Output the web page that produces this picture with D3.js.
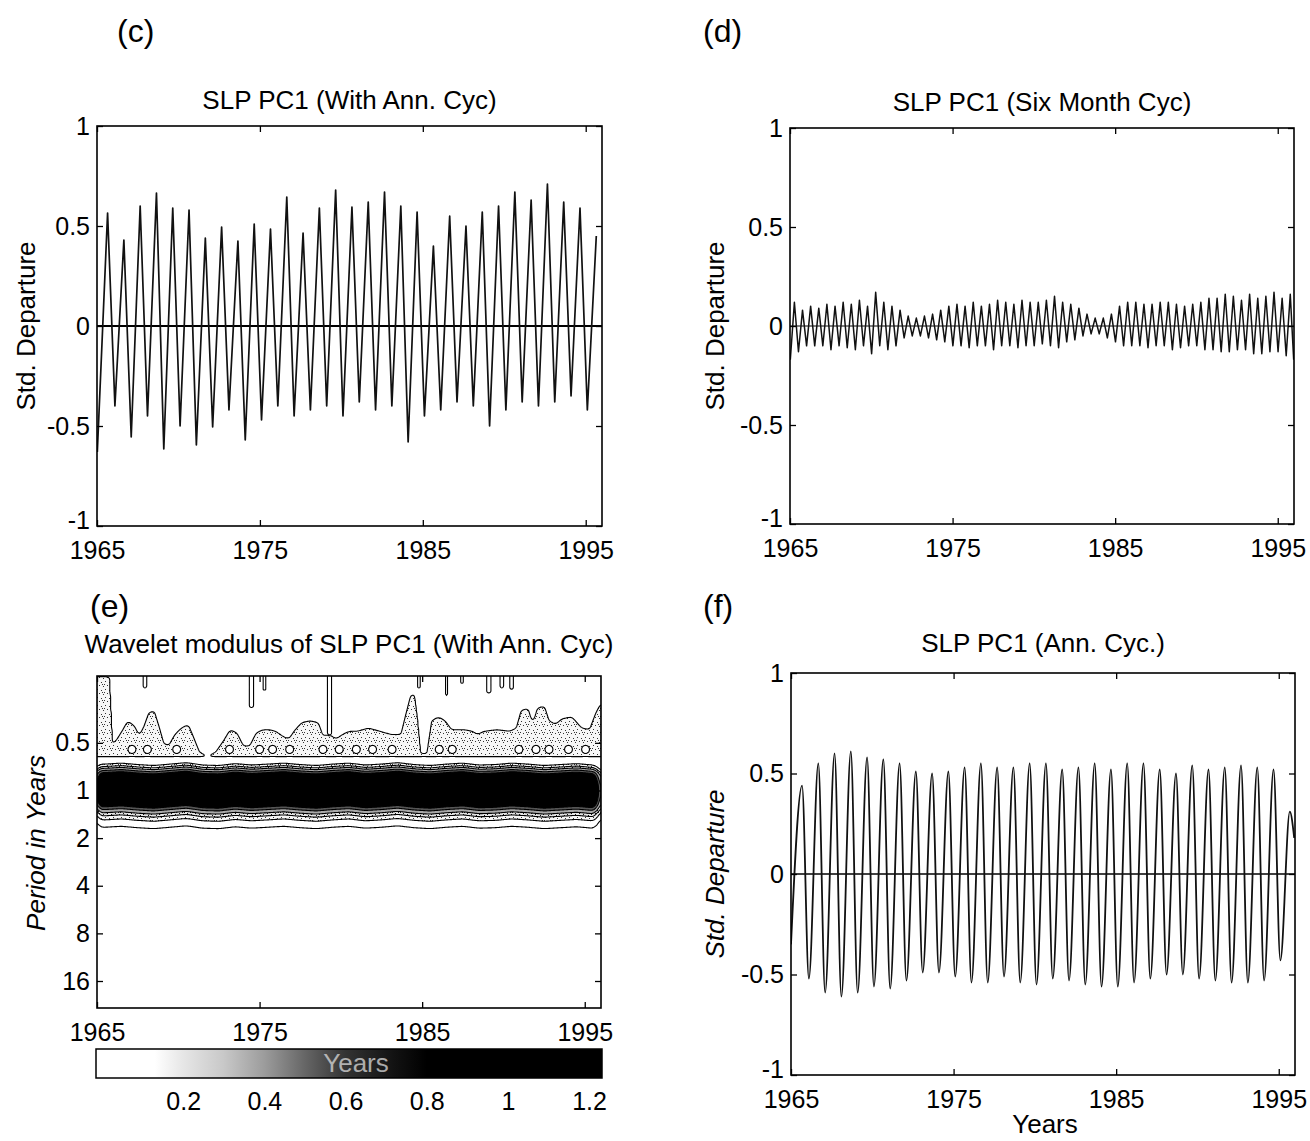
<!DOCTYPE html>
<html><head><meta charset="utf-8">
<script src="https://cdn.jsdelivr.net/npm/d3@7"></script>
<style>
body{margin:0;background:#fff}
svg text{font-family:"Liberation Sans",Arial,Helvetica,sans-serif;fill:#000}
</style>
</head><body>
<svg id="fig" width="1310" height="1141"></svg>
<script>
// ---------------- DATA ----------------
const yearTicks = [1965, 1975, 1985, 1995];
const stdTicks = [-1, -0.5, 0, 0.5, 1];
const periodTicks = [0.5, 1, 2, 4, 8, 16];
const modulusTicks = [0.2, 0.4, 0.6, 0.8, 1, 1.2];
const years = d3.range(1965, 1996);

// (c) SLP PC1 with annual cycle: yearly maximum and minimum
const cPeaks   = [0.565,0.43,0.60,0.665,0.59,0.58,0.44,0.495,0.425,0.51,0.485,0.645,0.465,0.59,0.68,0.595,0.62,0.67,0.60,0.57,0.40,0.55,0.50,0.57,0.60,0.67,0.63,0.71,0.62,0.59,0.45];
const cTroughs = [-0.63,-0.40,-0.555,-0.45,-0.615,-0.50,-0.595,-0.505,-0.42,-0.57,-0.47,-0.40,-0.45,-0.42,-0.40,-0.45,-0.38,-0.42,-0.40,-0.58,-0.45,-0.42,-0.38,-0.40,-0.50,-0.42,-0.38,-0.40,-0.38,-0.35,-0.42];

// (d) six-month cycle: half-yearly maximum and minimum
const dPeaks = [0.12,0.08, 0.10,0.09, 0.11,0.10, 0.12,0.11, 0.13,0.10, 0.17,0.12, 0.10,0.08, 0.05,0.04, 0.05,0.06, 0.08,0.10,
                0.11,0.10, 0.12,0.10, 0.11,0.13, 0.12,0.11, 0.13,0.12, 0.12,0.13, 0.15,0.12, 0.11,0.09, 0.06,0.04, 0.04,0.06,
                0.10,0.12, 0.12,0.11, 0.11,0.12, 0.12,0.11, 0.10,0.11, 0.12,0.14, 0.14,0.16, 0.15,0.13, 0.16,0.14, 0.15,0.17, 0.14,0.16];
const dTroughs = [-0.17,-0.13, -0.10,-0.10, -0.10,-0.12, -0.10,-0.11, -0.12,-0.10, -0.14,-0.10, -0.12,-0.10, -0.06,-0.05, -0.05,-0.06, -0.07,-0.08,
                  -0.10,-0.10, -0.11,-0.10, -0.10,-0.12, -0.10,-0.10, -0.11,-0.10, -0.10,-0.09, -0.10,-0.11, -0.08,-0.07, -0.05,-0.04, -0.04,-0.06,
                  -0.08,-0.10, -0.10,-0.10, -0.11,-0.10, -0.10,-0.12, -0.11,-0.10, -0.10,-0.12, -0.12,-0.13, -0.13,-0.12, -0.12,-0.14, -0.14,-0.13, -0.13,-0.15];
const dEnd = -0.17;

// (f) annual cycle: yearly maximum and minimum (first minimum = start value)
const fPeaks   = [0.44,0.55,0.60,0.61,0.58,0.57,0.55,0.51,0.50,0.51,0.53,0.55,0.53,0.53,0.55,0.55,0.52,0.53,0.55,0.52,0.55,0.55,0.52,0.50,0.54,0.52,0.53,0.54,0.53,0.52,0.31];
const fTroughs = [-0.35,-0.52,-0.59,-0.61,-0.59,-0.56,-0.57,-0.53,-0.49,-0.49,-0.51,-0.54,-0.54,-0.51,-0.54,-0.55,-0.52,-0.53,-0.55,-0.56,-0.56,-0.54,-0.52,-0.50,-0.50,-0.52,-0.53,-0.54,-0.54,-0.53,-0.43];
const fEnd = 0.18;

// (e) wavelet modulus: annual band profile (period -> modulus)
const bandPeriod  = [0.55,0.62,0.655,0.683,0.707,0.727,0.747,0.768,0.801,0.853,0.914,1.0,1.072,1.157,1.223,1.266,1.32,1.376,1.444,1.526,1.693,2.07,2.83];
const bandModulus = [0.0, 0.02,0.10,0.20,0.30,0.40,0.55,0.70,0.85,1.00,1.15,1.20,1.15,1.00,0.85,0.70,0.55,0.40,0.30,0.20,0.10,0.03,0.0];
// small yearly shift of the band centre (octaves, + = longer period)
const bandShift = [0.00,-0.02,0.01,0.03,0.00,-0.03,0.02,0.03,-0.01,0.02,0.00,-0.02,0.01,0.03,0.00,-0.02,0.02,0.00,-0.03,0.01,0.03,0.00,-0.02,0.02,0.01,-0.02,0.00,0.03,0.01,-0.01,0.02];
const bandEdgeYear   = [1965.0, 1965.2, 1995.55, 1995.9, 1996.0];
const bandEdgeFactor = [0.55, 1.0, 1.0, 0.5, 0.4];
// upper edge of the stippled semi-annual region (year -> period)
const waveEdgeYear   = [1965.0,1965.75,1965.95,1966.3,1966.6,1966.9,1967.3,1967.6,1967.9,1968.2,1968.5,1968.8,1969.1,1969.4,1969.8,1970.2,1970.6,1970.9,1971.3,1971.8,1972.3,1972.8,1973.2,1973.6,1974.0,1974.4,1974.8,1975.2,1975.6,1976.0,1976.4,1976.8,1977.2,1977.6,1978.1,1978.6,1978.9,1979.3,1979.7,1980.1,1980.5,1981.0,1981.7,1982.4,1983.1,1983.7,1984.0,1984.3,1984.5,1984.7,1984.9,1985.3,1985.6,1986.0,1986.4,1986.8,1987.6,1988.1,1988.4,1988.8,1989.6,1990.4,1990.8,1991.1,1991.5,1991.8,1992.1,1992.5,1992.8,1993.2,1993.6,1994.2,1994.8,1995.3,1995.7,1996.0];
const waveEdgePeriod = [0.19,0.19,0.52,0.46,0.41,0.36,0.39,0.45,0.39,0.32,0.31,0.39,0.50,0.52,0.44,0.40,0.38,0.45,0.57,0.60,0.57,0.48,0.41,0.43,0.52,0.52,0.43,0.41,0.41,0.42,0.45,0.47,0.41,0.37,0.36,0.37,0.45,0.44,0.47,0.44,0.42,0.42,0.40,0.42,0.44,0.44,0.33,0.25,0.24,0.35,0.58,0.58,0.36,0.34,0.36,0.41,0.41,0.42,0.44,0.42,0.41,0.42,0.40,0.31,0.30,0.38,0.30,0.29,0.36,0.38,0.35,0.34,0.40,0.41,0.32,0.28];
const semiLowerPeriod = 0.615;
const holeYears = [1967.15,1968.1,1969.9,1973.15,1975.0,1975.8,1976.85,1978.9,1979.9,1980.95,1981.95,1983.15,1986.05,1986.85,1990.95,1992.0,1992.8,1994.0,1995.05];
const holePeriod = 0.55;
// thin contours hanging from the top: [year, half width (yr), lowest period]
const topFingers = [[1967.95,0.12,0.225],[1974.5,0.15,0.30],[1975.3,0.10,0.233],[1979.3,0.14,0.45],[1984.8,0.10,0.225],[1986.5,0.06,0.25],[1987.45,0.10,0.21],[1989.1,0.15,0.243],[1989.9,0.12,0.225],[1990.5,0.12,0.23]];
const contourLevels = [0.1,0.2,0.3,0.4,0.55,0.7,0.85,1.0,1.15];

// ---------------- DRAWING ----------------
const svg = d3.select('#fig');
const FS = 25;
const FONT = '"Liberation Sans", Arial, Helvetica, sans-serif';
const defs = svg.append('defs');

function stipple(id, bg, dots, col){
  const p = defs.append('pattern').attr('id', id).attr('width', 8).attr('height', 8).attr('patternUnits','userSpaceOnUse');
  p.append('rect').attr('width',8).attr('height',8).attr('fill',bg);
  dots.forEach(d => p.append('rect').attr('x', d[0]).attr('y', d[1]).attr('width',1).attr('height',1).attr('fill',col));
}
stipple('stip1', '#f6f6f6', [[1,1],[5,2],[3,5],[7,6],[0,4],[6,4]], '#333');
stipple('stip2', '#e4e4e4', [[1,1],[5,2],[3,5],[7,6],[0,4],[2,3],[6,0],[4,7],[6,4]], '#111');

function styleAxis(g){
  g.select('.domain').remove();
  g.selectAll('line').attr('stroke','#000').attr('stroke-width',1.3);
  g.selectAll('text').attr('font-size', FS).attr('font-family', FONT).attr('fill','#000');
}

function axesFrame(x, y, yT, yFmt){
  const [x0, x1] = x.range(); const r = y.range();
  const top = Math.min(r[0],r[1]), bot = Math.max(r[0],r[1]);
  svg.append('g').attr('transform',`translate(0,${bot})`)
    .call(d3.axisBottom(x).tickValues(yearTicks).tickFormat(d3.format('d')).tickSizeInner(-6).tickSizeOuter(0).tickPadding(15)).call(styleAxis);
  svg.append('g').attr('transform',`translate(0,${top})`)
    .call(d3.axisTop(x).tickValues(yearTicks).tickFormat('').tickSizeInner(-6).tickSizeOuter(0)).call(styleAxis);
  const gl = svg.append('g').attr('transform',`translate(${x0},0)`)
    .call(d3.axisLeft(y).tickValues(yT).tickFormat(yFmt).tickSizeInner(-6).tickSizeOuter(0).tickPadding(7)).call(styleAxis);
  gl.selectAll('.tick').filter(d => d === -1).select('text').attr('dy','0.1em');
  svg.append('g').attr('transform',`translate(${x1},0)`)
    .call(d3.axisRight(y).tickValues(yT).tickFormat('').tickSizeInner(-6).tickSizeOuter(0)).call(styleAxis);
  svg.append('rect').attr('x',x0).attr('y',top).attr('width',x1-x0).attr('height',bot-top)
    .attr('fill','none').attr('stroke','#000').attr('stroke-width',1.6);
}

function title(txt, cx, y){
  svg.append('text').attr('x',cx).attr('y',y).attr('text-anchor','middle').attr('font-size',26).attr('font-family',FONT).text(txt);
}
function ylabel(txt, x, cy, italic){
  svg.append('text').attr('transform',`translate(${x},${cy}) rotate(-90)`).attr('text-anchor','middle').attr('font-family',FONT)
    .attr('dy','0.35em').attr('font-size',26).attr('font-style', italic ? 'italic' : 'normal').text(txt);
}
function letter(txt, x, y){
  svg.append('text').attr('x',x).attr('y',y).attr('font-size',32)
    .attr('font-family','"Open Sans","Noto Sans",sans-serif').text(txt);
}

function linePanel(x0,x1,y0,y1, pts, curve, zeroW, lineW){
  const x = d3.scaleLinear().domain([1965,1996]).range([x0,x1]);
  const y = d3.scaleLinear().domain([-1,1]).range([y1,y0]);
  const id = 'clip'+x0+'_'+y0;
  defs.append('clipPath').attr('id',id).append('rect').attr('x',x0).attr('y',y0).attr('width',x1-x0).attr('height',y1-y0);
  const g = svg.append('g').attr('clip-path',`url(#${id})`);
  g.append('line').attr('x1',x0).attr('x2',x1).attr('y1',y(0)).attr('y2',y(0)).attr('stroke','#000').attr('stroke-width',zeroW);
  g.append('path').datum(pts).attr('fill','none').attr('stroke','#111').attr('stroke-width',lineW)
    .attr('stroke-linejoin','round').attr('d', d3.line().x(d=>x(d[0])).y(d=>y(d[1])).curve(curve));
  axesFrame(x, y, stdTicks, d => String(d));
  return {x,y};
}

// (c)
const cPts = [];
years.forEach((yr,i) => { cPts.push([i===0 ? 1965.02 : yr+0.1, cTroughs[i]]); cPts.push([yr+0.65, cPeaks[i]]); });
linePanel(97,602,126,526, cPts, d3.curveLinear, 2, 1.7);
title('SLP PC1 (With Ann. Cyc)', 349.5, 109);
ylabel('Std. Departure', 26, 326, false);
letter('(c)', 117, 42);

// (d)
const dPts = [];
dPeaks.forEach((v,k) => { const t0 = 1965 + k/2; dPts.push([t0+0.02, dTroughs[k]]); dPts.push([t0+0.27, v]); });
dPts.push([1995.98, dEnd]);
linePanel(790,1294,128,524, dPts, d3.curveLinear, 1, 1.5);
title('SLP PC1 (Six Month Cyc)', 1042, 111);
ylabel('Std. Departure', 715, 326, false);
letter('(d)', 703, 42);

// (f)
const fPts = [];
years.forEach((yr,i) => { fPts.push([i===0 ? 1965.0 : yr+0.1, fTroughs[i]]); fPts.push([yr+0.68, fPeaks[i]]); });
fPts.push([1995.95, fEnd]);
linePanel(791,1295,673,1075, fPts, d3.curveMonotoneX, 1.5, 1.8);
title('SLP PC1 (Ann. Cyc.)', 1043, 652);
ylabel('Std. Departure', 715, 874, true);
letter('(f)', 703, 617);
svg.append('text').attr('x',1045).attr('y',1133).attr('text-anchor','middle').attr('font-size',26).attr('font-family',FONT).text('Years');

// (e) wavelet modulus
(function(){
  const x0=97, x1=601, y0=676, y1=1008;
  const xE = d3.scaleLinear().domain([1965,1996]).range([x0,x1]);
  const yE = d3.scaleLog().domain([0.189, 23.7]).range([y0,y1]);
  const nx = 621, ny = 350;
  const tA = 1965, tB = 1996, uA = Math.log2(0.189), uB = Math.log2(23.7);
  const dt = (tB-tA)/(nx-1), du = (uB-uA)/(ny-1);
  const pxPerYear = (x1-x0)/31, pxPerOct = (y1-y0)/(uB-uA);
  const edge = d3.scaleLinear().domain(waveEdgeYear).range(waveEdgePeriod.map(Math.log2)).clamp(true);
  const band = d3.scaleLinear().domain(bandPeriod.map(Math.log2)).range(bandModulus).clamp(true);
  const bandAmp = d3.scaleLinear().domain(bandEdgeYear).range(bandEdgeFactor).clamp(true);
  const shift = d3.scaleLinear().domain(years.map(y => y+0.5)).range(bandShift).clamp(true);
  const cl = v => v < 0 ? 0 : v > 1 ? 1 : v;
  const uLow = Math.log2(semiLowerPeriod), uHole = Math.log2(holePeriod), uBg = Math.log2(0.8);
  const fing = topFingers.map(f => ({tc:f[0], hw:f[1], ub:Math.log2(f[2]), hwu:f[1]*pxPerYear/pxPerOct}));
  const values = new Float64Array(nx*ny);
  for (let j=0;j<ny;j++){
    const u = uA + j*du;
    const bg = 0.14*cl((uBg-u)/0.15);
    for (let i=0;i<nx;i++){
      const t = tA + i*dt;
      const v = band(u - shift(t))*bandAmp(t);
      const top = edge(t);
      let s = 0.27*cl((u-top)/0.05+0.5)*cl((uLow-u)/0.05+0.5);
      if (s > 0) for (const h of holeYears){
        const dx=(t-h)/0.32, dy=(u-uHole)/0.12, d2=dx*dx+dy*dy;
        if (d2<1) s *= 1-0.8*(1-d2);
      }
      values[j*nx+i] = Math.max(v, bg, s);
    }
  }
  d3.blur2({data: values, width: nx, height: ny}, 2, 1);
  for (let j=0;j<ny;j++){
    const u = uA + j*du;
    if (u >= -0.9) continue;
    for (let i=0;i<nx;i++){
      const t = tA + i*dt;
      for (const f of fing){
        const ax = Math.abs(t-f.tc)/f.hw;
        if (ax >= 1) continue;
        let d;
        if (u < f.ub - f.hwu) d = ax; else { const ay=(u-(f.ub-f.hwu))/f.hwu; d=Math.sqrt(ax*ax+ay*ay); }
        values[j*nx+i] -= 0.1*cl((1-d)*3);
      }
    }
  }
  const cs = d3.contours().size([nx,ny]).thresholds(contourLevels)(values);
  const proj = d3.geoTransform({point(px,py){ this.stream.point(xE(tA+(px-0.5)*dt), yE(Math.pow(2, uA+(py-0.5)*du))); }});
  const path = d3.geoPath(proj);
  defs.append('clipPath').attr('id','clipE').append('rect').attr('x',x0).attr('y',y0).attr('width',x1-x0).attr('height',y1-y0);
  const fillFor = v => v < 0.15 ? '#fff' : v < 0.25 ? 'url(#stip1)' : v < 0.35 ? 'url(#stip2)' : v < 0.5 ? '#a8a8a8' : v < 0.65 ? '#555' : '#000';
  const g = svg.append('g').attr('clip-path','url(#clipE)');
  g.selectAll('path.f').data(cs).join('path').attr('class','f').attr('d',path).attr('fill',d=>fillFor(d.value)).attr('stroke','none');
  g.selectAll('path.s').data(cs).join('path').attr('class','s').attr('d',path).attr('fill','none').attr('stroke','#000').attr('stroke-width',1.1);

  axesFrame(xE, yE, periodTicks, d => String(d));
  title('Wavelet modulus of SLP PC1 (With Ann. Cyc)', 349, 653);
  ylabel('Period in Years', 36, 843, true);
  letter('(e)', 90, 617);

  // colorbar
  const cb = d3.scaleLinear().domain([-0.015, 1.232]).range([96, 602]);
  const grad = defs.append('linearGradient').attr('id','cbgrad').attr('x1','0').attr('x2','1').attr('y1','0').attr('y2','0');
  const stops = [[-0.015,'#fff'],[0.13,'#fff'],[0.2,'#e6e6e6'],[0.3,'#c8c8c8'],[0.4,'#9c9c9c'],[0.5,'#666'],[0.6,'#333'],[0.72,'#121212'],[0.8,'#000'],[1.232,'#000']];
  stops.forEach(s => grad.append('stop').attr('offset', (cb(s[0])-96)/(602-96)).attr('stop-color', s[1]));
  svg.append('rect').attr('x',96).attr('y',1049).attr('width',506).attr('height',29).attr('fill','url(#cbgrad)').attr('stroke','#000').attr('stroke-width',1.5);
  svg.append('text').attr('x',356).attr('y',1072).attr('text-anchor','middle').attr('font-size',26).attr('font-family',FONT).style('fill','#cfcfcf').style('opacity',0.8).text('Years');
  svg.append('g').attr('transform','translate(0,1078)')
    .call(d3.axisBottom(cb).tickValues(modulusTicks).tickFormat(d => String(d)).tickSizeInner(0).tickSizeOuter(0).tickPadding(14)).call(styleAxis);
})();
</script>
</body></html>
